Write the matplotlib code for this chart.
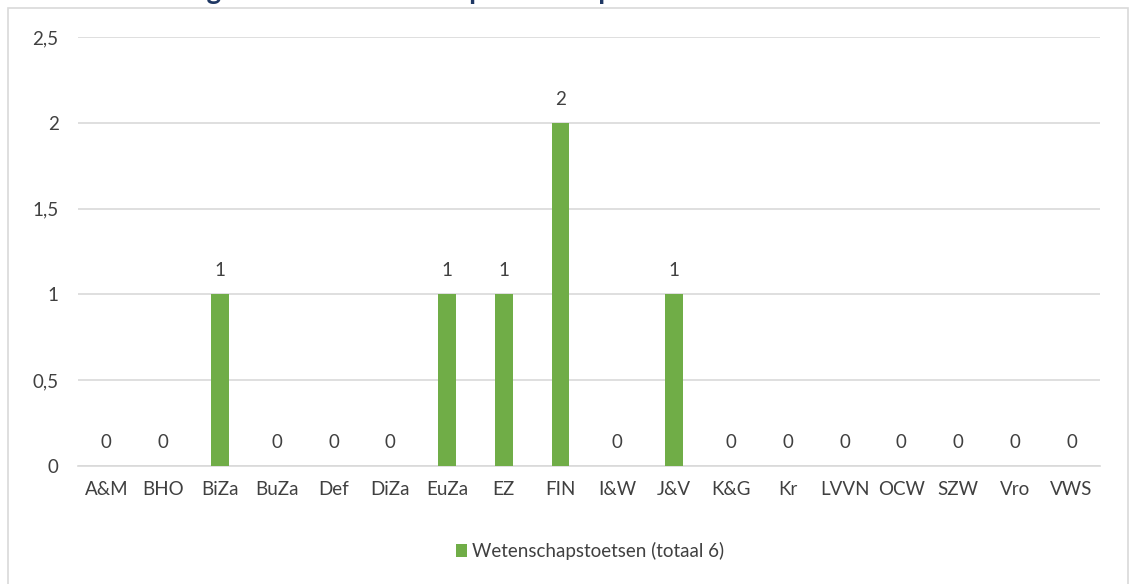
import numpy as np
from matplotlib import pyplot as plt
from matplotlib.patches import Rectangle

ministeries = ['A&M', 'BHO', 'BiZa', 'BuZa', 'Def', 'DiZa', 'EuZa', 'EZ', 'FIN',
               'I&W', 'J&V', 'K&G', 'Kr', 'LVVN', 'OCW', 'SZW', 'Vro', 'VWS']
aantal = [0, 0, 1, 0, 0, 0, 1, 1, 2, 0, 1, 0, 0, 0, 0, 0, 0, 0]
yticks = [0, 0.5, 1, 1.5, 2, 2.5]
ytick_labels = ['0', '0,5', '1', '1,5', '2', '2,5']
reeks = 'Wetenschapstoetsen (totaal 6)'
titel = 'Aantal bevindingen uit de wetenschapstoetsen per ministerie'

plt.rcParams['font.family'] = ['Lato', 'DejaVu Sans']
grey = '#404040'
green = '#70AD47'

fig = plt.figure(figsize=(11.3, 5.84), dpi=100)
ax = fig.add_axes([78/1130, (584-466)/584, (1100-78)/1130, (466-37)/584])

# chart border + title that is cut off at the top in the original
fig.patches.append(Rectangle((8/1130, -0.05), 1120/1130, 1.05 - 8/584,
                             transform=fig.transFigure, fill=False,
                             edgecolor='#D9D9D9', linewidth=1.2))
fig.text(0.012, 1 + 1/584, titel, fontsize=20, fontweight='bold',
         color='#1F3864', va='baseline', ha='left')

x = np.arange(len(ministeries))
bars = ax.bar(x, aantal, width=0.31, color=green, label=reeks, zorder=3)
for xi, v in zip(x, aantal):
    ax.annotate(str(v), (xi, v), xytext=(0, 11), textcoords='offset points',
                ha='center', va='bottom', fontsize=13.5, color=grey)

ax.set_xlim(-0.5, len(ministeries) - 0.5)
ax.set_ylim(0, 2.5)
ax.set_yticks(yticks)
ax.set_yticklabels(ytick_labels)
ax.set_xticks(x)
ax.set_xticklabels(ministeries)
ax.tick_params(length=0, labelsize=13.5, colors=grey)
ax.tick_params(axis='x', pad=11)
ax.tick_params(axis='y', pad=14)
ax.grid(axis='y', color='#D9D9D9', linewidth=1.2, zorder=0)
for s in ['top', 'right', 'left']:
    ax.spines[s].set_visible(False)
ax.spines['bottom'].set_color('#D9D9D9')
ax.spines['bottom'].set_linewidth(1.2)

fig.legend(handles=[bars], labels=[reeks], loc='center', bbox_to_anchor=(590/1130, 1 - 551/584),
           frameon=False, fontsize=13.5, labelcolor=grey, handlelength=0.6, handleheight=0.7,
           handletextpad=0.3)

fig.savefig('out.png', dpi=100)
